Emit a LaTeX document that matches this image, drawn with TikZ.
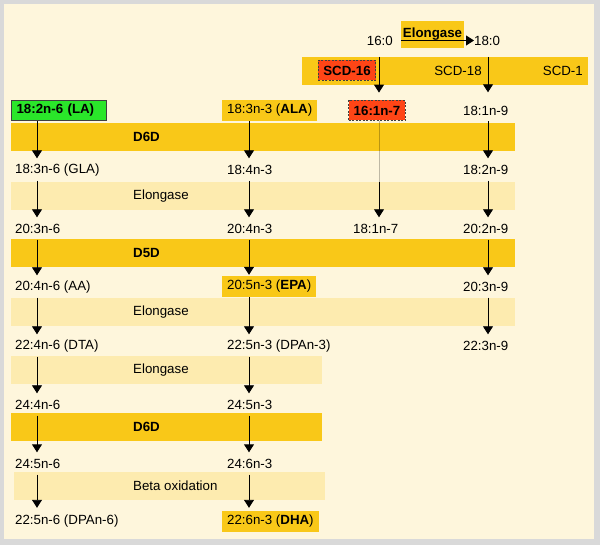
\documentclass[tikz,border=0pt]{standalone}
\usepackage{fontspec}
\setmainfont{Liberation Sans}
\usetikzlibrary{arrows.meta}
\definecolor{cream}{HTML}{FEF6DC}
\definecolor{framegray}{HTML}{D9D9D9}
\definecolor{bandDark}{HTML}{F9C818}
\definecolor{bandLight}{HTML}{FDEBAF}
\definecolor{greenbox}{HTML}{2AE62A}
\definecolor{redbox}{HTML}{FF4516}
\begin{document}
\begin{tikzpicture}[x=1pt,y=-1pt,
  every node/.style={font=\fontsize{13.3}{16}\selectfont},
  lbl/.style={anchor=west, inner sep=0pt, minimum height=21pt},
  ybox/.style={anchor=west, fill=bandDark, inner xsep=5pt, inner ysep=0pt, minimum height=21pt},
  rbox/.style={fill=redbox, draw=black!75, dash pattern=on 2pt off 1.5pt, line width=0.8pt, inner xsep=5pt, inner ysep=0pt, minimum height=20pt},
  bandd/.style={fill=bandDark, inner sep=0pt, anchor=north west},
  bandl/.style={fill=bandLight, inner sep=0pt, anchor=north west},
  bandlbl/.style={anchor=west, inner sep=0pt},
  arr/.style={-{Triangle[width=10pt,length=8pt]}, line width=0.9pt, shorten >=1pt}
]
\useasboundingbox (0,0) rectangle (600,545);
\fill[framegray] (0,0) rectangle (600,545);
\fill[cream] (4,4) rectangle (594,539);

% column coordinates
\coordinate (c1) at (37,0);
\coordinate (c2) at (249,0);
\coordinate (c3) at (379,0);
\coordinate (c4) at (488,0);

% bands
\node[bandd, minimum width=286pt, minimum height=27.5pt] (scd) at (302,57) {};
\node[bandd, minimum width=504pt, minimum height=28pt] (d6da) at (11,122.5) {};
\node[bandl, minimum width=504pt, minimum height=27.5pt] (el1) at (11,182) {};
\node[bandd, minimum width=504pt, minimum height=28pt] (d5d) at (11,239) {};
\node[bandl, minimum width=504pt, minimum height=27.5pt] (el2) at (11,298) {};
\node[bandl, minimum width=311pt, minimum height=27.5pt] (el3) at (11,356) {};
\node[bandd, minimum width=311pt, minimum height=28pt] (d6db) at (11,413) {};
\node[bandl, minimum width=311pt, minimum height=27.5pt] (beta) at (14,472) {};

% band labels
\node[bandlbl] (ld6da) at (133,136.5) {\textbf{D6D}};
\node[bandlbl] (lel1) at (133,196) {Elongase};
\node[bandlbl] (ld5d) at (133,253) {\textbf{D5D}};
\node[bandlbl] (lel2) at (133,312) {Elongase};
\node[bandlbl] (lel3) at (133,370) {Elongase};
\node[bandlbl] (ld6db) at (133,427) {\textbf{D6D}};
\node[bandlbl] (lbeta) at (133,486) {Beta oxidation};

% top
\node[lbl, anchor=east] (n160) at (393,40.5) {16:0};
\node[lbl] (n180) at (474,40.5) {18:0};
\node[fill=bandDark, minimum width=63pt, minimum height=27pt, inner sep=0pt] (elbox) at (432.5,34.5) {\textbf{Elongase}};
\draw[arr, shorten <=8pt, shorten >=0pt] (n160.east) -- (n180.west);

\node[rbox] (scd16) at (347,70.5) {\textbf{SCD-16}};
\node[inner sep=0pt] (scd18) at (458,70.5) {SCD-18};
\node[inner sep=0pt, anchor=east] (scd1) at (583,70.5) {SCD-1};

% row 1
\node[draw=black!75, line width=1.2pt, fill=greenbox, text width=85pt, align=left, inner xsep=5pt, inner ysep=0pt, minimum height=19.5pt, anchor=west] (la) at (11,110.5) {\textbf{18:2n-6 (LA)}};
\node[ybox] (ala) at (222,110.5) {18:3n-3 (\textbf{ALA})};
\node[rbox] (n161) at (377,110.5) {\textbf{16:1n-7}};
\node[lbl] (n181) at (463,110.5) {18:1n-9};

% row 2
\node[lbl] (gla) at (15,170) {18:3n-6 (GLA)};
\node[lbl] (n184) at (227,170) {18:4n-3};
\node[lbl] (n182) at (463,170) {18:2n-9};

% row 3
\node[lbl] (n203a) at (15,229) {20:3n-6};
\node[lbl] (n204) at (227,229) {20:4n-3};
\node[lbl] (n181b) at (353,229) {18:1n-7};
\node[lbl] (n202) at (463,229) {20:2n-9};

% row 4
\node[lbl] (aa) at (15,287) {20:4n-6 (AA)};
\node[ybox] (epa) at (222,286.5) {20:5n-3 (\textbf{EPA})};
\node[lbl] (n203b) at (463,287) {20:3n-9};

% row 5
\node[lbl] (dta) at (15,346) {22:4n-6 (DTA)};
\node[lbl] (dpa3) at (227,346) {22:5n-3 (DPAn-3)};
\node[lbl] (n223) at (463,346) {22:3n-9};

% row 6
\node[lbl] (n244) at (15,405) {24:4n-6};
\node[lbl] (n245a) at (227,405) {24:5n-3};

% row 7
\node[lbl] (n245b) at (15,464) {24:5n-6};
\node[lbl] (n246) at (227,464) {24:6n-3};

% row 8
\node[lbl] (dpa6) at (15,521.5) {22:5n-6 (DPAn-6)};
\node[ybox] (dha) at (222,521.5) {22:6n-3 (\textbf{DHA})};

% SCD arrows
\draw[arr, shorten >=7.5pt] (scd.north -| c3) -- (n161.north -| c3);
\draw[arr, shorten >=7.5pt] (scd.north -| c4) -- (n181.north -| c4);

% column 1
\draw[arr] (la.south -| c1) -- (gla.north -| c1);
\draw[arr] (gla.south -| c1) -- (n203a.north -| c1);
\draw[arr] (n203a.south -| c1) -- (aa.north -| c1);
\draw[arr] (aa.south -| c1) -- (dta.north -| c1);
\draw[arr] (dta.south -| c1) -- (n244.north -| c1);
\draw[arr] (n244.south -| c1) -- (n245b.north -| c1);
\draw[arr, shorten >=3pt] (n245b.south -| c1) -- (dpa6.north -| c1);

% column 2
\draw[arr] (ala.south -| c2) -- (n184.north -| c2);
\draw[arr] (n184.south -| c2) -- (n204.north -| c2);
\draw[arr] (n204.south -| c2) -- (epa.north -| c2);
\draw[arr] (epa.south -| c2) -- (dpa3.north -| c2);
\draw[arr] (dpa3.south -| c2) -- (n245a.north -| c2);
\draw[arr] (n245a.south -| c2) -- (n246.north -| c2);
\draw[arr, shorten >=3pt] (n246.south -| c2) -- (dha.north -| c2);

% column 3
\draw[line width=0.9pt, black, opacity=0.25] (n161.south -| c3) -- (el1.north -| c3);
\draw[arr] (el1.north -| c3) -- (n181b.north -| c3);

% column 4
\draw[arr] (n181.south -| c4) -- (n182.north -| c4);
\draw[arr] (n182.south -| c4) -- (n202.north -| c4);
\draw[arr] (n202.south -| c4) -- (n203b.north -| c4);
\draw[arr] (n203b.south -| c4) -- (n223.north -| c4);
\end{tikzpicture}
\end{document}
